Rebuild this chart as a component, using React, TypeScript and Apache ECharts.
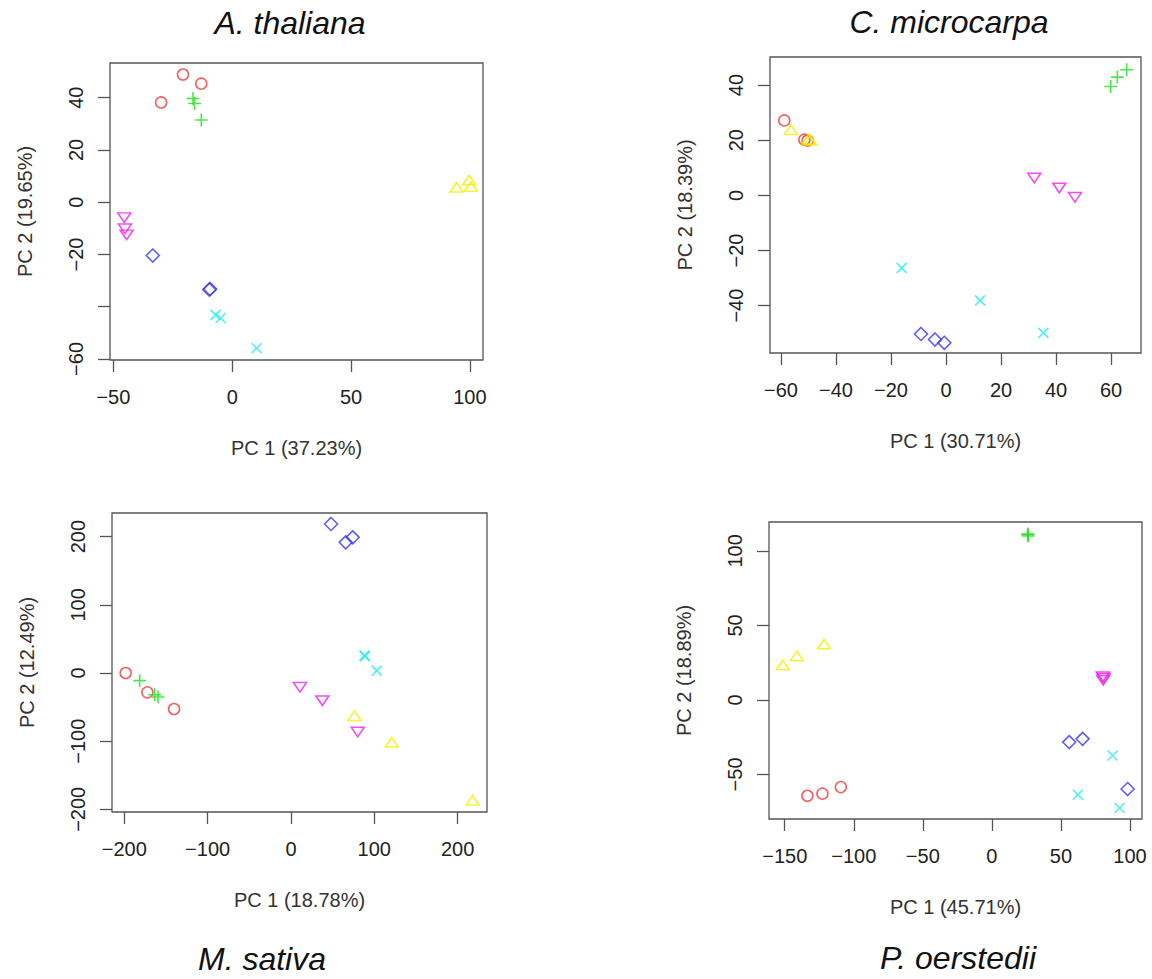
import React, { useEffect, useRef } from "react";
import * as echarts from "echarts";

// Panel labels
const panelTitles = ["A. thaliana", "C. microcarpa", "M. sativa", "P. oerstedii"];
const xNames = ["PC 1 (37.23%)", "PC 1 (30.71%)", "PC 1 (18.78%)", "PC 1 (45.71%)"];
const yNames = ["PC 2 (19.65%)", "PC 2 (18.39%)", "PC 2 (12.49%)", "PC 2 (18.89%)"];

// Axis ticks and labels
const xTicks = [
  [-50, 0, 50, 100],
  [-60, -40, -20, 0, 20, 40, 60],
  [-200, -100, 0, 100, 200],
  [-150, -100, -50, 0, 50, 100],
];
const yTicks = [
  [-60, -40, -20, 0, 20, 40],
  [-40, -20, 0, 20, 40],
  [-200, -100, 0, 100, 200],
  [-50, 0, 50, 100],
];
const yTickLabels = [
  [-60, -20, 0, 20, 40],
  [-40, -20, 0, 20, 40],
  [-200, -100, 0, 100, 200],
  [-50, 0, 50, 100],
];
const xRange = [
  [-51.4, 105.5],
  [-64.0, 70.9],
  [-214.8, 235.3],
  [-161.4, 108.7],
];
const yRange = [
  [-60.4, 53.3],
  [-57.2, 50.2],
  [-203.9, 234.7],
  [-79.9, 119.4],
];

// A. thaliana
const athCircle = [[-20.7, 48.9], [-13.0, 45.4], [-29.9, 38.2]];
const athTriangle = [[94.4, 5.7], [99.7, 8.5], [100.4, 6.0]];
const athPlus = [[-16.5, 39.7], [-15.8, 37.8], [-13.0, 31.5]];
const athCross = [[-7.0, -43.1], [-4.9, -44.3], [10.3, -55.9]];
const athDiamond = [[-33.4, -20.4], [-9.6, -33.5], [-9.3, -33.2]];
const athInvTri = [[-45.4, -5.9], [-45.1, -10.2], [-44.4, -12.5]];

// C. microcarpa
const cmiCircle = [[-58.8, 27.2], [-51.5, 20.2], [-50.3, 19.9]];
const cmiTriangle = [[-56.4, 23.8], [-50.0, 20.4], [-49.4, 20.0]];
const cmiPlus = [[59.9, 39.5], [62.3, 42.9], [65.7, 45.6]];
const cmiCross = [[-16.1, -26.3], [12.4, -38.1], [35.4, -49.9]];
const cmiDiamond = [[-9.1, -50.3], [-4.0, -52.3], [-0.6, -53.5]];
const cmiInvTri = [[32.1, 6.3], [41.2, 2.7], [46.9, -0.7]];

// M. sativa
const msaCircle = [[-198.4, 0.0], [-172.3, -28.4], [-140.3, -52.8]];
const msaTriangle = [[76.2, -62.6], [121.0, -101.7], [218.0, -186.8]];
const msaPlus = [[-181.6, -11.2], [-163.5, -31.8], [-159.5, -35.2]];
const msaCross = [[88.2, 25.4], [89.0, 24.5], [103.0, 3.4]];
const msaDiamond = [[48.1, 218.6], [65.7, 191.7], [74.1, 199.0]];
const msaInvTri = [[10.8, -21.0], [37.7, -40.6], [80.2, -86.6]];

// P. oerstedii
const poeCircle = [[-133.6, -64.3], [-122.7, -62.9], [-109.4, -58.5]];
const poeTriangle = [[-151.4, 23.4], [-141.3, 29.5], [-121.5, 37.5]];
const poePlus = [[26.1, 110.9], [26.3, 110.0], [25.9, 111.3]];
const poeCross = [[87.4, -37.3], [62.3, -63.6], [92.5, -72.5]];
const poeDiamond = [[56.0, -28.3], [65.7, -26.1], [98.3, -59.8]];
const poeInvTri = [[80.4, 15.6], [80.9, 14.5], [80.6, 13.2]];

const panelData = [
  [athCircle, athTriangle, athPlus, athCross, athDiamond, athInvTri],
  [cmiCircle, cmiTriangle, cmiPlus, cmiCross, cmiDiamond, cmiInvTri],
  [msaCircle, msaTriangle, msaPlus, msaCross, msaDiamond, msaInvTri],
  [poeCircle, poeTriangle, poePlus, poeCross, poeDiamond, poeInvTri],
];

// Marker styles per group (R pch 1..6 with rainbow colours)
const groupColors = ["#F03C3C", "#F2F000", "#22E022", "#22EEEE", "#3838EE", "#EE22EE"];
const groupSymbols = [
  "circle",
  "path://M0,-1L0.866,0.5L-0.866,0.5Z",
  "path://M0,-1L0,1M-1,0L1,0",
  "path://M-1,-1L1,1M-1,1L1,-1",
  "path://M0,-1L1,0L0,1L-1,0Z",
  "path://M-0.866,-0.5L0.866,-0.5L0,1Z",
];
const groupSizes: any[] = [11, [13, 11], 13, 10, 13, [13, 11]];

// Plot rectangles in page pixels
const grids = [
  { left: 110, top: 63, width: 373, height: 297 },
  { left: 770, top: 57, width: 371, height: 296 },
  { left: 112, top: 513, width: 375, height: 299 },
  { left: 769, top: 522, width: 373, height: 297 },
];
const titlePos = [
  [290, 23],
  [949, 22],
  [262, 959],
  [958, 958],
];

const FONT = "'Liberation Sans', Arial, Helvetica, sans-serif";
const AXIS_COLOR = "#555";

// Tick labels use a true minus sign
const fmtTick = (v: number) => String(v).replace("-", "\u2212");

export default function App() {
  const ref = useRef<HTMLDivElement>(null);

  useEffect(() => {
    if (!ref.current) return;
    const chart = echarts.init(ref.current, null, { renderer: "svg" });

    const series: any[] = [];
    panelData.forEach((groups, p) => {
      groups.forEach((pts, g) => {
        series.push({
          type: "scatter",
          xAxisIndex: p,
          yAxisIndex: p,
          data: pts,
          symbol: groupSymbols[g],
          symbolSize: groupSizes[g],
          symbolKeepAspect: true,
          itemStyle: {
            color: "transparent",
            borderColor: groupColors[g],
            borderWidth: 1.6,
          },
          emphasis: { disabled: true },
          silent: true,
        });
      });
    });

    const option: any = {
      animation: false,
      backgroundColor: "#ffffff",
      grid: grids.map((g) => ({
        ...g,
        show: true,
        borderColor: AXIS_COLOR,
        borderWidth: 1.3,
        backgroundColor: "transparent",
      })),
      xAxis: grids.map((_, i) => ({
        gridIndex: i,
        type: "value",
        min: xRange[i][0],
        max: xRange[i][1],
        splitLine: { show: false },
        axisLine: { show: false, onZero: false },
        axisTick: {
          show: true,
          length: 12,
          customValues: xTicks[i],
          lineStyle: { color: AXIS_COLOR, width: 1.3 },
        },
        axisLabel: {
          customValues: xTicks[i],
          formatter: fmtTick,
          margin: 27,
          fontSize: 20,
          fontFamily: FONT,
          color: "#222",
        },
        name: xNames[i],
        nameLocation: "middle",
        nameGap: 78,
        nameTextStyle: { fontSize: 20, fontFamily: FONT, color: "#333" },
      })),
      yAxis: grids.map((_, i) => ({
        gridIndex: i,
        type: "value",
        min: yRange[i][0],
        max: yRange[i][1],
        splitLine: { show: false },
        axisLine: { show: false, onZero: false },
        axisTick: {
          show: true,
          length: 12,
          customValues: yTicks[i],
          lineStyle: { color: AXIS_COLOR, width: 1.3 },
        },
        axisLabel: {
          customValues: yTickLabels[i],
          formatter: fmtTick,
          rotate: 90,
          margin: 24,
          fontSize: 20,
          fontFamily: FONT,
          color: "#222",
        },
        name: yNames[i],
        nameLocation: "middle",
        nameGap: 75,
        nameTextStyle: { fontSize: 20, fontFamily: FONT, color: "#333" },
      })),
      graphic: panelTitles.map((t, i) => ({
        type: "text",
        x: titlePos[i][0],
        y: titlePos[i][1],
        style: {
          text: t,
          fontSize: 32,
          fontStyle: "italic",
          fontFamily: FONT,
          fill: "#111",
          align: "center",
          verticalAlign: "middle",
        },
      })),
      series,
    };

    chart.setOption(option);
    return () => chart.dispose();
  }, []);

  return (
    <div
      ref={ref}
      style={{ position: "absolute", left: 0, top: 0, width: 1152, height: 979 }}
    />
  );
}
